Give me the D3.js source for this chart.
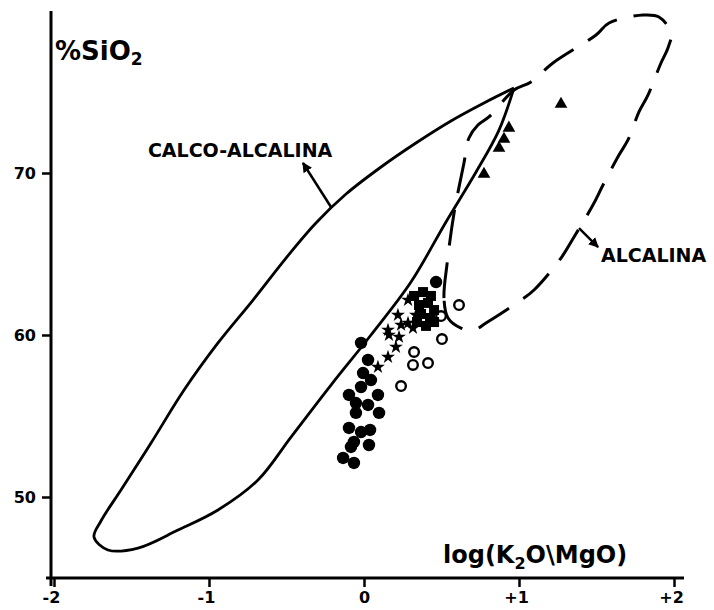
<!DOCTYPE html>
<html>
<head>
<meta charset="utf-8">
<script src="https://cdn.jsdelivr.net/npm/d3@7"></script>
<style>
  body { margin: 0; background: #fff; }
  svg { display: block; }
  text { font-family: "DejaVu Sans", sans-serif; font-weight: bold; fill: #000; }
</style>
</head>
<body>
<svg id="chart"></svg>
<script>
// tick values and labels
var xTicks = [-2, -1, 0, 1, 2];
var xTickLabels = ["-2", "-1", "0", "+1", "+2"];
var yTicks = [50, 60, 70];

// field boundaries [log(K2O/MgO), %SiO2]
var calcoBoundary = [
  [0.968, 75.25], [0.774, 74.32], [0.561, 73.21], [0.335, 71.85], [0.110, 70.37],
  [-0.116, 68.70], [-0.310, 66.91], [-0.503, 64.75], [-0.716, 62.16], [-0.942, 59.51],
  [-1.161, 56.60], [-1.374, 53.33], [-1.568, 50.43], [-1.697, 48.52], [-1.742, 47.53],
  [-1.652, 46.73], [-1.458, 46.85], [-1.200, 47.96], [-0.942, 49.20], [-0.684, 51.05],
  [-0.471, 53.70], [-0.213, 56.91], [0.045, 60.00], [0.303, 63.27], [0.529, 66.98],
  [0.723, 70.06], [0.871, 72.65], [0.968, 75.25]
];
var alkalineBoundary = [
  [0.542, 61.05], [0.516, 62.28], [0.535, 64.32], [0.581, 67.53], [0.645, 70.62],
  [0.677, 72.16], [0.735, 72.96], [0.806, 73.46], [0.968, 75.12], [1.077, 75.62],
  [1.219, 76.79], [1.497, 78.52], [1.581, 79.26], [1.800, 79.75], [1.903, 79.63],
  [1.981, 78.64], [1.961, 77.72], [1.916, 76.79], [1.832, 74.81], [1.774, 73.77],
  [1.703, 72.04], [1.645, 71.11], [1.542, 69.26], [1.477, 68.02], [1.355, 66.05],
  [1.271, 64.75], [1.097, 62.78], [1.013, 62.16], [0.787, 60.74], [0.710, 60.31],
  [0.626, 60.43]
];

// samples
var filledCircles = [
  [0.465, 63.27], [-0.019, 59.51], [0.026, 58.46], [-0.006, 57.65], [0.045, 57.22],
  [-0.019, 56.79], [-0.097, 56.30], [0.090, 56.30], [-0.052, 55.80], [0.026, 55.68],
  [-0.052, 55.19], [0.097, 55.19], [-0.097, 54.26], [-0.019, 54.01], [0.039, 54.14],
  [-0.065, 53.40], [-0.084, 53.09], [0.032, 53.21], [-0.135, 52.41], [-0.065, 52.10]
];
var stars = [
  [0.090, 58.02], [0.155, 58.64], [0.206, 59.26], [0.226, 59.88], [0.161, 60.00],
  [0.155, 60.31], [0.219, 61.23], [0.284, 60.74], [0.284, 62.16], [0.316, 60.43],
  [0.239, 60.62], [0.335, 61.23]
];
var openCircles = [
  [0.613, 61.85], [0.497, 61.17], [0.503, 59.75], [0.323, 58.95], [0.316, 58.15],
  [0.413, 58.27], [0.239, 56.85]
];
var squares = [
  [0.323, 62.41], [0.381, 62.65], [0.432, 62.41], [0.355, 61.85], [0.413, 61.98],
  [0.452, 61.54], [0.368, 61.30], [0.426, 61.05], [0.342, 60.80], [0.400, 60.56],
  [0.452, 60.80]
];
var triangles = [
  [1.271, 74.26], [0.935, 72.78], [0.903, 72.10], [0.871, 71.54], [0.774, 69.94]
];

var width = 714, height = 610;
var svg = d3.select("#chart").attr("width", width).attr("height", height);

var x = d3.scaleLinear().domain([-2, 2]).range([54, 674]);
var y = d3.scaleLinear().domain([45, 80]).range([578, 11]);

// arrow head
svg.append("defs").append("marker")
  .attr("id", "head")
  .attr("viewBox", "0 0 10 10")
  .attr("refX", 9).attr("refY", 5)
  .attr("markerWidth", 4).attr("markerHeight", 4)
  .attr("markerUnits", "strokeWidth")
  .attr("orient", "auto")
  .append("path").attr("d", "M0,0 L10,5 L0,10 z").attr("fill", "#000");

// axes
var xAxis = svg.append("g")
  .attr("transform", "translate(0," + y(45) + ")")
  .call(d3.axisBottom(x).tickValues(xTicks)
    .tickFormat(function(d, i) { return xTickLabels[i]; })
    .tickSize(9).tickPadding(5));
xAxis.select(".domain").remove();
xAxis.selectAll(".tick line").attr("stroke-width", 2.5);
xAxis.selectAll(".tick text")
  .style("font-size", "16px")
  .attr("dx", function(d) { return d === 0 ? 0 : -3; });

var yAxis = svg.append("g")
  .attr("transform", "translate(51,0)")
  .call(d3.axisLeft(y).tickValues(yTicks).tickSize(9).tickPadding(6));
yAxis.select(".domain").remove();
yAxis.selectAll(".tick line").attr("stroke-width", 2.5);
yAxis.selectAll(".tick text").style("font-size", "16px");

svg.append("line")
  .attr("x1", 51).attr("x2", 51).attr("y1", y(80)).attr("y2", y(45) + 8)
  .attr("stroke", "#000").attr("stroke-width", 3);
svg.append("line")
  .attr("x1", 46).attr("x2", 684).attr("y1", y(45)).attr("y2", y(45))
  .attr("stroke", "#000").attr("stroke-width", 3);

// axis titles
var yTitle = svg.append("text").attr("x", 55).attr("y", 60).style("font-size", "26px");
yTitle.append("tspan").text("%SiO");
yTitle.append("tspan").attr("dy", 5).style("font-size", "17px").text("2");

var xTitle = svg.append("text").attr("x", 443).attr("y", 563).style("font-size", "24px");
xTitle.append("tspan").text("log(K");
xTitle.append("tspan").attr("dy", 6).style("font-size", "16px").text("2");
xTitle.append("tspan").attr("dy", -6).text("O\\MgO)");

// fields
var line = d3.line().x(function(d) { return x(d[0]); }).y(function(d) { return y(d[1]); });

svg.append("path")
  .datum(calcoBoundary)
  .attr("d", line.curve(d3.curveCatmullRom.alpha(0.5)))
  .attr("fill", "none").attr("stroke", "#000").attr("stroke-width", 2.8);

svg.append("path")
  .datum(alkalineBoundary)
  .attr("d", line.curve(d3.curveCatmullRomClosed.alpha(0.5)))
  .attr("fill", "none").attr("stroke", "#000").attr("stroke-width", 3)
  .attr("stroke-dasharray", "36,17");

// labels with arrows
svg.append("text").attr("x", x(-1.394)).attr("y", y(70.99)).style("font-size", "19px").text("CALCO-ALCALINA");
svg.append("line")
  .attr("x1", x(-0.213)).attr("y1", y(67.90)).attr("x2", x(-0.394)).attr("y2", y(70.62))
  .attr("stroke", "#000").attr("stroke-width", 2.5).attr("marker-end", "url(#head)");

svg.append("text").attr("x", x(1.529)).attr("y", y(64.51)).style("font-size", "19px").text("ALCALINA");
svg.append("line")
  .attr("x1", x(1.387)).attr("y1", y(66.60)).attr("x2", x(1.510)).attr("y2", y(65.43))
  .attr("stroke", "#000").attr("stroke-width", 2.5).attr("marker-end", "url(#head)");

// points
svg.append("g").selectAll("circle").data(filledCircles).join("circle")
  .attr("cx", function(d) { return x(d[0]); })
  .attr("cy", function(d) { return y(d[1]); })
  .attr("r", 6.2).attr("fill", "#000");

svg.append("g").selectAll("circle").data(openCircles).join("circle")
  .attr("cx", function(d) { return x(d[0]); })
  .attr("cy", function(d) { return y(d[1]); })
  .attr("r", 4.8).attr("fill", "#fff").attr("stroke", "#000").attr("stroke-width", 2.4);

function symbols(data, type, size) {
  svg.append("g").selectAll("path").data(data).join("path")
    .attr("transform", function(d) { return "translate(" + x(d[0]) + "," + y(d[1]) + ")"; })
    .attr("d", d3.symbol().type(type).size(size))
    .attr("fill", "#000");
}
symbols(squares, d3.symbolSquare, 100);
symbols(stars, d3.symbolStar, 60);
symbols(triangles, d3.symbolTriangle, 70);
</script>
</body>
</html>
